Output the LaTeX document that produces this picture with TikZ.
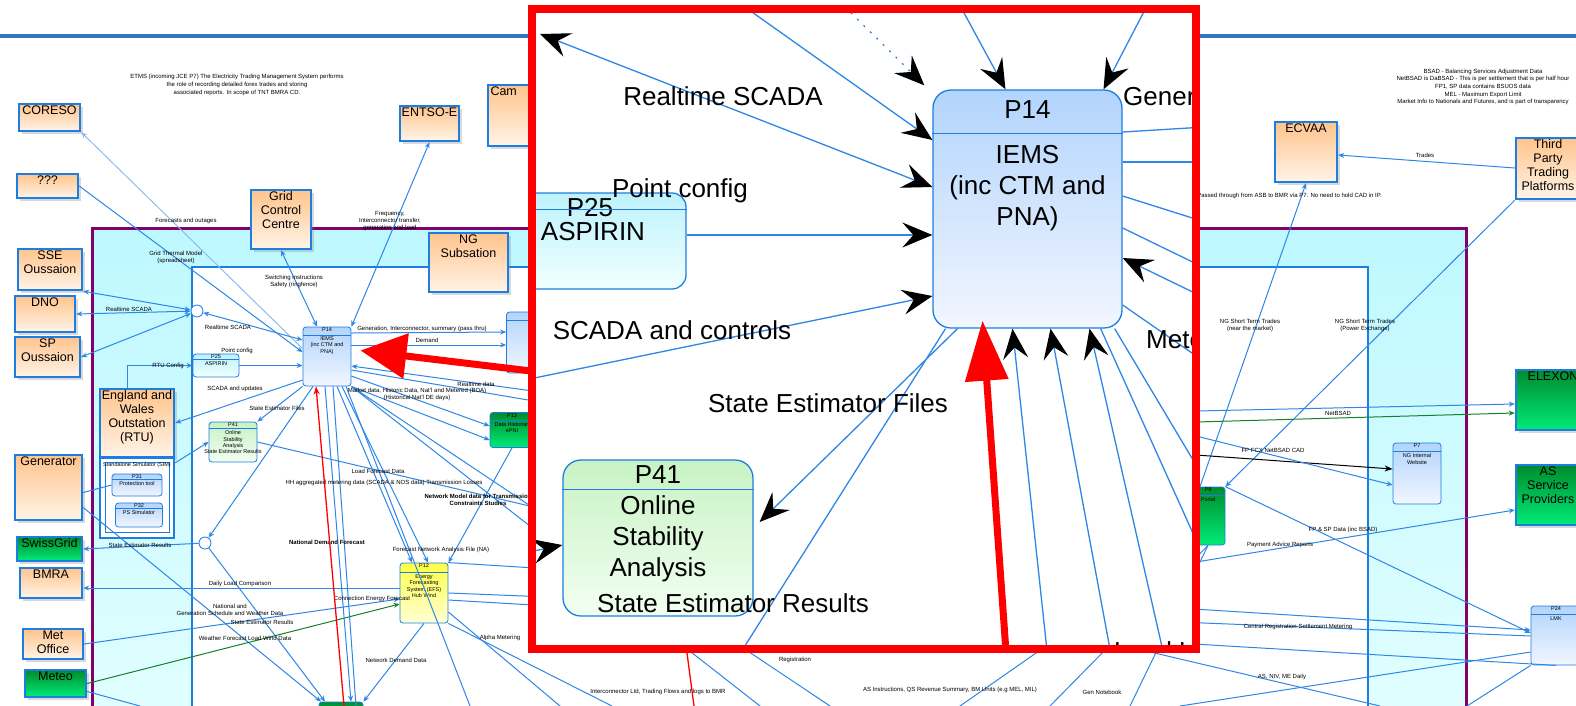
\documentclass[tikz,border=0pt]{standalone}
\usepackage{fontspec}
\setmainfont{Liberation Sans}
\usetikzlibrary{arrows.meta,positioning,shadows}

\definecolor{flowblue}{RGB}{45,135,230}
\definecolor{boxblue}{RGB}{30,125,225}
\definecolor{titleblue}{RGB}{46,117,195}
\definecolor{frameviolet}{RGB}{128,0,110}
\definecolor{bandtop}{RGB}{190,248,255}
\definecolor{bandbot}{RGB}{228,255,255}
\definecolor{orgtop}{RGB}{255,196,140}
\definecolor{orgbot}{RGB}{255,244,232}
\definecolor{grntop}{RGB}{0,140,45}
\definecolor{grnbot}{RGB}{0,235,120}
\definecolor{prtop}{RGB}{178,212,252}
\definecolor{prbot}{RGB}{242,246,255}
\definecolor{cytop}{RGB}{190,242,252}
\definecolor{cybot}{RGB}{240,255,255}
\definecolor{gntop}{RGB}{200,242,196}
\definecolor{gnbot}{RGB}{242,255,242}
\definecolor{yltop}{RGB}{255,255,70}
\definecolor{ylbot}{RGB}{255,255,215}
\definecolor{weathergreen}{RGB}{20,130,40}

\begin{document}
\begin{tikzpicture}[
  x=1pt, y=-1pt,
  font=\fontsize{6}{7}\selectfont,
  boxsize/.style 2 args={minimum width=#1pt, minimum height=#2pt, inner sep=0pt},
  ext/.style={draw=boxblue, line width=2.4pt, top color=orgtop, bottom color=orgbot,
    drop shadow={shadow xshift=2.5pt, shadow yshift=-2.5pt, opacity=0.3},
    label={[extlbl]north:{#1}}},
  extg/.style={ext={#1}, top color=grntop, bottom color=grnbot},
  extlbl/.style={anchor=north, align=center, inner sep=2.5pt, font=\fontsize{12.5}{14}\selectfont},
  proc/.style={draw=boxblue, line width=0.8pt, rounded corners=3pt, top color=prtop, bottom color=prbot},
  proccy/.style={proc, top color=cytop, bottom color=cybot},
  procgn/.style={proc, top color=gntop, bottom color=gnbot},
  procyl/.style={proc, top color=yltop, bottom color=ylbot},
  procdg/.style={proc, top color=grntop, bottom color=grnbot},
  phead/.style={anchor=north, inner sep=1pt, font=\fontsize{5.5}{6}\selectfont},
  pbody/.style={anchor=north, align=center, inner sep=1pt, font=\fontsize{5.5}{6.3}\selectfont},
  junction/.style={circle, draw=flowblue, line width=0.9pt, fill=white, minimum size=12pt, inner sep=0pt},
  note/.style={align=center, inner sep=0pt},
  flow/.style={draw=flowblue, line width=1pt},
  fl/.style={flow, -{Stealth[length=6pt, width=5pt]}},
  flb/.style={flow, {Stealth[length=6pt, width=5pt]}-{Stealth[length=6pt, width=5pt]}},
  bigline/.style={draw=flowblue, line width=1.3pt},
  bigtip/.style={bigline, -{Stealth[length=30pt, width=25pt, inset=11pt, black]}},
  bigboth/.style={bigline, {Stealth[length=30pt, width=25pt, inset=11pt, black]}-{Stealth[length=30pt, width=25pt, inset=11pt, black]}},
  bigproc/.style={draw=boxblue, line width=1.3pt, rounded corners=18pt, top color=prtop, bottom color=prbot},
  bigtxt/.style={align=center, inner sep=2pt, font=\fontsize{26}{31}\selectfont},
  redarrow/.style={draw=red, line width=7pt, -{Triangle[length=46pt, width=44pt]}},
]
\useasboundingbox (0,0) rectangle (1576,705);

% title rule and the two frames
\draw[line width=3.5pt, titleblue] (0,36) -- (1576,36);
\draw[line width=3pt, draw=frameviolet, top color=bandtop, bottom color=bandbot] (92,228) rectangle (1466,760);
\draw[line width=1.6pt, draw=boxblue, fill=white] (192,267) rectangle (1368,760);

% external parties
\node[ext=CORESO, boxsize={61}{27}] (coreso) at (49.5,117.5) {};
\node[ext=???, boxsize={61}{24}] (unknown) at (47.5,186) {};
\node[ext=ENTSO-E, boxsize={59}{35}] (entsoe) at (429.5,123.5) {};
\node[ext={}, boxsize={110}{61}, label={[extlbl, anchor=north west, xshift=1]north west:Cam}] (cam) at (543,115.5) {};
\node[ext={Grid\\Control\\Centre}, boxsize={60}{59}] (gcc) at (281,219.5) {};
\node[ext={NG\\Subsation}, boxsize={79}{59}] (ngsub) at (468.5,262.5) {};
\node[ext={SSE\\Oussaion}, boxsize={64}{41}] (sse) at (50,269.5) {};
\node[ext=DNO, boxsize={60}{36}] (dno) at (45,314) {};
\node[ext={SP\\Oussaion}, boxsize={65}{40}] (sp) at (47.5,357) {};
\node[ext={England and\\Wales\\Outstation\\(RTU)}, boxsize={74}{68}] (engw) at (137,423) {};
\node[ext=Generator, boxsize={67}{65}] (gen) at (48.5,487.5) {};
\node[extg=SwissGrid, boxsize={65}{24}] (swiss) at (49.5,549) {};
\node[ext=BMRA, boxsize={62}{30}] (bmra) at (51,583) {};
\node[ext={Met\\Office}, boxsize={60}{30}, extlbl/.append style={inner sep=1pt, font=\fontsize{12.5}{13}\selectfont}] (metoff) at (53,644) {};
\node[extg=Meteo, boxsize={61}{27}] (meteo) at (55.5,683.5) {};
\node[ext=ECVAA, boxsize={62}{60}] (ecvaa) at (1306,152) {};
\node[ext={Third\\Party\\Trading\\Platforms}, boxsize={64}{61}, extlbl/.append style={inner sep=1pt}] (tptp) at (1548,168.5) {};
\node[extg=ELEXON, boxsize={74}{60}] (elexon) at (1553,400) {};
\node[extg={AS\\Service\\Providers}, boxsize={64}{60}] (asp) at (1548,495) {};

% RTU simulator block
\node[draw=boxblue, line width=2.4pt, fill=white, boxsize={74}{80}] (engsim) at (137,498) {};
\node[draw=boxblue, line width=0.8pt, boxsize={64}{70}, label={[phead]north:Standalone Simulator (SIM)}] (engsiminner) at (137,497) {};
\node[proc, boxsize={50}{22}, label={[phead]north:P31}, label={[pbody, yshift=-7]north:Protection tool}] (simone) at (137,485) {};
\node[proc, boxsize={47}{24}, label={[phead]north:P32}, label={[pbody, yshift=-7]north:PS Simulator}] (simtwo) at (139,515) {};

% processes
\node[proc, boxsize={48}{59}, label={[phead]north:P14}, label={[pbody, yshift=-9]north:{IEMS\\(inc CTM and\\PNA)}}] (p14s) at (327,356.5) {};
\node[proccy, boxsize={46}{23}, label={[phead]north:P25}, label={[pbody, yshift=-7]north:ASPIRIN}] (p25s) at (216,365.5) {};
\node[procgn, boxsize={48}{40}, label={[phead]north:P41}, label={[pbody, yshift=-8]north:{Online\\Stability\\Analysis\\State Estimator Results}}] (p41s) at (233,442) {};
\node[procyl, boxsize={48}{60}, label={[phead]north:P12}, label={[pbody, yshift=-11]north:{Energy\\Forecasting\\System (EFS)\\Hub Wind}}] (p12s) at (424,593) {};
\node[procdg, boxsize={44}{35}, label={[phead]north:P13}, label={[pbody, yshift=-9]north:{Data Historian\\ePNI}}] (dhist) at (512,430) {};
\node[proc, boxsize={73}{61}] (p10s) at (543,342.5) {};
\node[proc, boxsize={48}{61}, label={[phead]north:P7}, label={[pbody, yshift=-10]north:{NG Internal\\Website}}] (p7s) at (1417,473.5) {};
\node[proc, boxsize={50}{59}, label={[phead]north:P24}, label={[pbody, yshift=-10]north:LMK}] (lmk) at (1556,635.5) {};
\node[procdg, boxsize={34}{58}, label={[phead]north:P9}, label={[pbody, yshift=-10]north:Portal}] (greenr) at (1208,516) {};
\node[procdg, boxsize={44}{26}] (greenbot) at (341,715) {};
\foreach \n/\h in {p14s/9, p25s/6, p41s/7, p12s/10, dhist/8, p7s/9, lmk/9, greenr/9, simone/6, simtwo/6, p10s/9}
  \draw[draw=boxblue, line width=0.7pt] ([yshift=-\h]\n.north west) -- ([yshift=-\h]\n.north east);

\node[junction] (jn1) at (197,311) {};
\node[junction] (jn2) at (205,543) {};

% free ends
\coordinate (mtend) at (140,706);
\coordinate (rt1) at (540,392);
\coordinate (rt2) at (540,402);
\coordinate (bt0) at (356,706);
\coordinate (bt1) at (470,706);
\coordinate (bt3) at (560,706);
\coordinate (bt4) at (612,706);
\coordinate (bt5) at (760,706);
\coordinate (bt6) at (830,706);
\coordinate (bt7) at (960,706);
\coordinate (bt8) at (1050,706);
\coordinate (bt9) at (1130,706);
\coordinate (bt10) at (1380,706);
\coordinate (ex1) at (1196,411);
\coordinate (ex2) at (1196,422);
\coordinate (bk1) at (1196,455);
\coordinate (bl1) at (1196,436);
\coordinate (as1) at (1196,562);
\coordinate (lm4) at (1180,706);
\coordinate (lm5) at (1467,706);

% flows on the left
\draw[fl, draw=flowblue!55] (p14s.162) -- (coreso.south east);
\draw[fl] (unknown.east) -- (p14s.170);
\draw[flb] (p14s.north east) -- (entsoe.south);
\draw[flb] (gcc.south) -- ([xshift=-10]p14s.north);
\draw[flb] (sse.south east) -- (jn1);
\draw[flb] (dno.east) -- (jn1);
\draw[flb] (sp.east) -- (jn1);
\draw[flb] (jn1) -- (p14s.west |- 0,340);
\draw[fl] (p25s.east) -- (p14s.west |- p25s.east);
\draw[fl] ([xshift=-10]engw.north) |- (p25s.west);
\draw[fl] (p14s.west |- 0,380) -- (engw.east);
\draw[fl] (p14s.south west) -- (p41s.north east);
\draw[fl] ([xshift=-14]p14s.south) -- (jn2);
\draw[fl] (jn2) -- (swiss.east);
\draw[fl] ([yshift=-6]engsim.north east) -- (p41s.west);
\draw[flow] ([yshift=-5]gen.east) -- (simone.west);
\draw[fl] ([yshift=-20]gen.east) -- ([xshift=-20]greenbot.north);
\draw[fl] (jn2) -- ([xshift=-16]greenbot.north);
\draw[fl] (p12s.west |- 0,588) -- (bmra.east |- 0,588);
\draw[fl] (metoff.east) -- (p12s.west |- 0,599);
\draw[fl, draw=weathergreen] (meteo.east) -- (p12s.west |- 0,604);
\draw[flow] ([yshift=-8]meteo.east) -- (mtend);

% fan round IEMS and EFS
\draw[flow] ([xshift=6]p14s.south) -- (bt0);
\draw[fl] ([xshift=10]p14s.south) -- ([xshift=-12]p12s.north);
\draw[fl] ([xshift=15]p14s.south) -- ([xshift=4]p12s.north);
\draw[flow] ([xshift=19]p14s.south) -- (bt1);
\draw[fl] ([xshift=-2]p14s.south) -- ([xshift=10]greenbot.north);
\draw[fl] (p14s.south east) -- (dhist.west |- 0,440);
\draw[fl] (p14s.east |- 0,376) -- (dhist.west |- 0,426);
\draw[fl] (dhist.south) -- (p12s.north east);
\draw[fl] (p14s.east |- 0,333) -- (p10s.west |- 0,332);
\draw[fl] (p14s.east |- 0,345) -- (p10s.west |- 0,345);
\draw[fl] (rt1) -- (p14s.east |- 0,366);
\draw[flow] (p14s.east |- 0,370) -- (rt2);
\draw[fl] (p12s.south) -- (greenbot.north east);
\draw[flow] (p12s.east |- 0,612) -- (bt3);
\draw[flow] (p12s.south east) -- (bt4);
\draw[flow] (p14s.south east) -- (bt5);
\draw[flow] (p14s.south east) -- (bt6);
\draw[flow] (greenr.south west) -- (bt7);
\draw[flow] (greenr.south) -- (bt8);
\draw[flow] (greenr.south) -- (bt9);
\draw[flow] (p41s.east) -- (bt10);

% flows on the right
\draw[fl] (tptp.west |- 0,168) -- (ecvaa.east |- 0,155);
\draw[fl] ([xshift=-8]greenr.north) -- (ecvaa.south);
\draw[fl] (tptp.south west) -- (greenr.north east);
\draw[fl] (ex1) -- (elexon.west |- 0,404);
\draw[fl, draw=weathergreen] (ex2) -- (elexon.west |- 0,413);
\draw[line width=1pt, -{Stealth[length=8pt, width=6pt]}] (bk1) -- (p7s.west |- 0,469);
\draw[fl] (bl1) -- (p7s.west |- 0,485);
\draw[fl] (as1) -- (asp.west |- 0,510);
\draw[fl] (greenr.north east) -- (lmk.west |- 0,633);
\draw[fl] (p12s.north east) -- (lmk.west |- 0,630);
\draw[flow] (p12s.east) -- (lmk.west |- 0,636);
\draw[flow] (p12s.east |- 0,600) -- (lmk.south);
\draw[flow] (lmk.west |- 0,652) -- (lm4);
\draw[flow] (lmk.south west) -- (lm5);

% flow labels
\foreach \x/\y/\t [count=\i] in {
  186/221/{Forecasts and outages},
  390/221/{Frequency,\\Interconnector transfer,\\generation and load},
  176/257/{Grid Thermal Model\\(spreadsheet)},
  294/281/{Switching instructions\\Safety (ringfence)},
  129/309/{Realtime SCADA},
  228/327/{Realtime SCADA},
  237/351/{Point config},
  168/366/{RTU Config},
  422/329/{Generation, Interconnector, summary (pass thru)},
  427/340/{Demand},
  235/389/{SCADA and updates},
  277/408/{State Estimator Files},
  417/394/{Market data, Historic Data, Nat'l and Metered (BOA)\\(Historical Nat'l DE days)},
  476/384/{Realtime data},
  140/545/{State Estimator Results},
  378/471/{Load Forecast Data},
  384/483/{HH aggregated metering data (SCADA \& NOS data) Transmission Losses},
  441/550/{Forecast Network Analysis File (NA)},
  240/584/{Daily Load Comparison},
  372/599/{Connection Energy Forecast},
  230/610/{National and\\Generation Schedule and Weather Data},
  262/622/{State Estimator Results},
  245/638/{Weather Forecast Load Wind Data},
  396/660/{Network Demand Data},
  500/638/{Alpha Metering},
  1425/155/{Trades},
  1250/325/{NG Short Term Trades\\(near the market)},
  1365/325/{NG Short Term Trades\\(Power Exchange)},
  1338/413/{NetBSAD},
  1273/450/{FP FCX NetBSAD CAD},
  1343/530/{FP \& SP Data (inc BSAD)},
  1280/545/{Payment Advice Reports},
  1298/627/{Central Registration Settlement Metering},
  1282/677/{AS, NIV, ME Daily},
  795/660/{Registration},
  658/692/{Interconnector Ltd, Trading Flows and logs to BMR},
  950/690/{AS Instructions, QS Revenue Summary, BM Units (e.g MEL, MIL)},
  1102/692/{Gen Notebook}}
  \node[note] (note\i) at (\x,\y) {\t};
\node[note, font=\fontsize{6}{6.5}\selectfont\bfseries] (netmodel) at (478,500) {Network Model data for Transmission\\Constraints Studies};
\node[note, font=\fontsize{6}{6.5}\selectfont\bfseries] (natdemand) at (327,542) {National Demand Forecast};
\node[note, font=\fontsize{6}{8}\selectfont] (etmsnote) at (237,85) {ETMS (incoming JCE P7) The Electricity Trading Management System performs\\the role of recording detailed forex trades and storing\\associated reports. In scope of TNT BMRA CD.};
\node[note, font=\fontsize{6}{7.7}\selectfont] (bsadnote) at (1483,87) {BSAD - Balancing Services Adjustment Data\\NetBSAD is DaBSAD - This is per settlement that is per half hour\\FP1, SP data contains BSUOS data\\MEL - Maximum Export Limit\\Market Info to Nationals and Futures, and is part of transparency};
\node[note, anchor=east] (cadnote) at (1382,196) {Passed through from ASB to BMR via P7. No need to hold CAD in IP.};

% thin red pointer
\coordinate (redbase) at (344,706);
\draw[red, line width=1.3pt, -{Stealth[length=8pt, width=6pt]}] (redbase) -- ([xshift=-11]p14s.south);
\coordinate (redcuta) at (687,653);
\coordinate (redcutb) at (694,706);
\draw[red, line width=1.3pt] (redcuta) -- (redcutb);

% magnified view
\begin{scope}
  \clip (532,9) rectangle (1196,649);
  \fill[white] (532,9) rectangle (1196,649);
  \node[bigproc, boxsize={189}{238}, label={[bigtxt, anchor=north, yshift=-9]north:P14}, label={[bigtxt, anchor=north, yshift=-54]north:{IEMS\\(inc CTM and\\PNA)}}] (iemsbig) at (1027.5,209) {};
  \node[bigproc, rounded corners=14pt, top color=cytop, bottom color=cybot, boxsize={192}{96}, label={[bigtxt, anchor=north, yshift=-4]north:P25}, label={[bigtxt, anchor=north, yshift=-28, xshift=3]north:ASPIRIN}] (aspbig) at (590,241) {};
  \node[bigproc, top color=gntop, bottom color=gnbot, boxsize={190}{156}, label={[bigtxt, anchor=north, yshift=-4]north:P41}, label={[bigtxt, anchor=north, yshift=-34]north:{Online\\Stability\\Analysis}}] (p41big) at (658,538) {};
  \foreach \n/\h in {iemsbig/44, aspbig/17, p41big/30}
    \draw[draw=boxblue, line width=1.3pt] ([yshift=-\h]\n.north west) -- ([yshift=-\h]\n.north east);

  \coordinate (scadaend) at (540,34);
  \coordinate (topa) at (735,0);
  \coordinate (topb) at (838,0);
  \coordinate (topc) at (957,0);
  \coordinate (topd) at (1150,0);
  \coordinate (leftlow) at (515,382);
  \coordinate (rgt1) at (1205,127);
  \coordinate (rgt2) at (1205,162);
  \coordinate (rgt3) at (1205,222);
  \coordinate (rgt4) at (1205,268);
  \coordinate (rgt5) at (1205,298);
  \coordinate (rgt6) at (1205,362);
  \coordinate (rgt7) at (1205,480);
  \coordinate (rgt8) at (1205,560);
  \coordinate (lowa) at (736,660);
  \coordinate (lowb) at (1048,660);
  \coordinate (lowc) at (1112,660);
  \coordinate (lowd) at (1165,660);
  \coordinate (p41in) at (515,555);

  \draw[bigboth] (scadaend) -- (iemsbig.west |- 0,187);
  \draw[bigtip] (topa) -- (iemsbig.west |- 0,140);
  \draw[bigtip, dash pattern=on 2pt off 7pt] (topb) -- ([xshift=-8,yshift=4]iemsbig.north west);
  \draw[bigtip] (topc) -- ([xshift=-22]iemsbig.north);
  \draw[bigtip] (topd) -- ([xshift=76]iemsbig.north);
  \draw[bigtip] (aspbig.east |- 0,235) -- (iemsbig.west |- 0,235);
  \draw[bigtip] (leftlow) -- (iemsbig.west |- 0,296);
  \draw[bigline] (iemsbig.east |- 0,132) -- (rgt1);
  \draw[bigline] (iemsbig.east |- 0,162) -- (rgt2);
  \draw[bigline] (iemsbig.east |- 0,196) -- (rgt3);
  \draw[bigline] (iemsbig.east |- 0,228) -- (rgt4);
  \draw[bigtip] (rgt5) -- (iemsbig.east |- 0,258);
  \draw[bigline] (iemsbig.east |- 0,305) -- (rgt6);
  \draw[bigline] ([xshift=-8]iemsbig.south east) -- (rgt7);
  \draw[bigline] ([xshift=-22]iemsbig.south east) -- (rgt8);
  \draw[bigtip] ([xshift=-70]iemsbig.south) -- ([xshift=6,yshift=16]p41big.east);
  \draw[bigline] ([xshift=-82]iemsbig.south) -- (lowa);
  \draw[bigtip] (lowb) -- ([xshift=-15]iemsbig.south);
  \draw[bigtip] (lowc) -- ([xshift=23]iemsbig.south);
  \draw[bigtip] (lowd) -- ([xshift=62]iemsbig.south);
  \draw[bigtip] (p41in) -- (p41big.west |- 0,545);

  \node[bigtxt] (insrt) at (723,96) {Realtime SCADA};
  \node[bigtxt] (inspc) at (680,191) {Point config};
  \node[bigtxt] (inssc) at (672,330) {SCADA and controls};
  \node[bigtxt] (insef) at (828,403) {State Estimator Files};
  \node[bigtxt] (inser) at (733,603) {State Estimator Results};
  \node[bigtxt, anchor=west] (insgen) at (1121,97) {Gener};
  \node[bigtxt, anchor=west] (insmet) at (1144,340) {Mete};
  \node[bigtxt, anchor=west] (insload) at (1112,651) {Load U};

  \coordinate (zoomfoot) at (1006,652);
  \draw[redarrow, -{Triangle[length=60pt, width=42pt]}] (zoomfoot) -- ([xshift=-45,yshift=8]iemsbig.south);
\end{scope}
\draw[red, line width=8pt] (532,9) rectangle (1196,649);

% pointer from the magnified view
\coordinate (zoomleft) at (531,371);
\draw[redarrow] (zoomleft) -- ([xshift=9,yshift=6]p14s.east);
\end{tikzpicture}
\end{document}
